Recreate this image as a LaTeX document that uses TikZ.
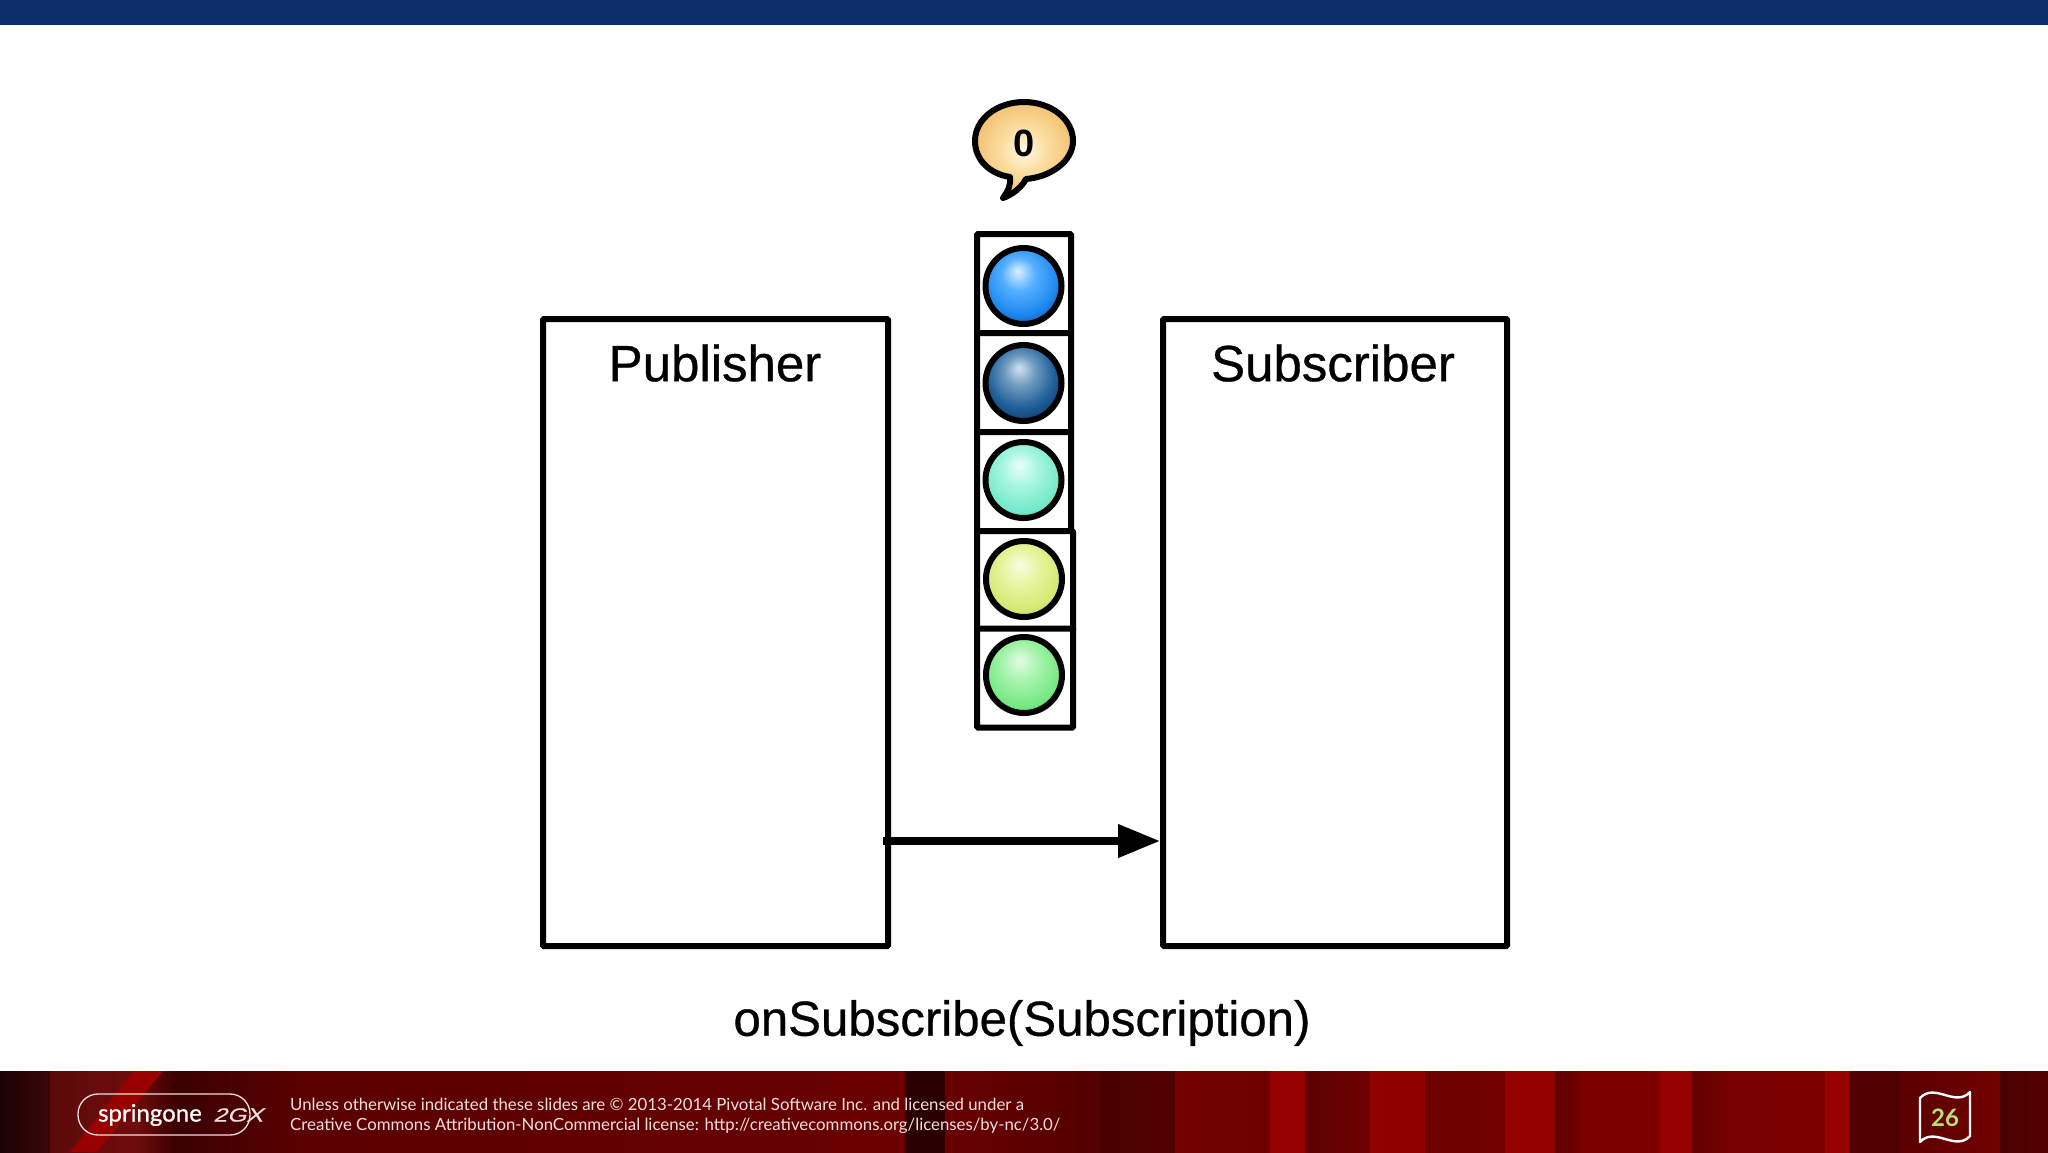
\documentclass[tikz,border=0pt]{standalone}
\usepackage{fontspec}
\setmainfont{Liberation Sans}
\newfontfamily\diagfont[FakeBold=0.6]{Liberation Sans}
\newfontfamily\footfont{Lato}
\newfontfamily\logofont[FakeBold=0.8]{Lato}
\newfontfamily\gxfont[FakeStretch=1.3,FakeSlant=0.3,FakeBold=0.8]{Liberation Sans}
\usetikzlibrary{arrows.meta,positioning}
\definecolor{bA}{HTML}{DCEEFF}\definecolor{bB}{HTML}{55B0FF}\definecolor{bC}{HTML}{1E88F0}\definecolor{bD}{HTML}{0A4A98}
\pgfdeclareradialshading{ballone}{\pgfpoint{-4bp}{10bp}}{color(0bp)=(bA); color(11bp)=(bB); color(24bp)=(bC); color(33bp)=(bD); color(50bp)=(bD)}
\definecolor{nA}{HTML}{D5E2EE}\definecolor{nB}{HTML}{6F9BC0}\definecolor{nC}{HTML}{1F5F98}\definecolor{nD}{HTML}{08305C}
\pgfdeclareradialshading{balltwo}{\pgfpoint{-3bp}{10bp}}{color(0bp)=(nA); color(10bp)=(nB); color(22bp)=(nC); color(34bp)=(nD); color(50bp)=(nD)}
\definecolor{tA}{HTML}{EAFFF8}\definecolor{tB}{HTML}{A6F6E0}\definecolor{tC}{HTML}{72E8C8}\definecolor{tD}{HTML}{48BFA0}
\pgfdeclareradialshading{ballthree}{\pgfpoint{-3bp}{10bp}}{color(0bp)=(tA); color(12bp)=(tB); color(26bp)=(tC); color(35bp)=(tD); color(50bp)=(tD)}
\definecolor{yA}{HTML}{F8FCE4}\definecolor{yB}{HTML}{E6F5A0}\definecolor{yC}{HTML}{D4E870}\definecolor{yD}{HTML}{8FA848}
\pgfdeclareradialshading{ballfour}{\pgfpoint{-3bp}{10bp}}{color(0bp)=(yA); color(12bp)=(yB); color(26bp)=(yC); color(35bp)=(yD); color(50bp)=(yD)}
\definecolor{gA}{HTML}{E4FBE6}\definecolor{gB}{HTML}{A6F4AC}\definecolor{gC}{HTML}{72E880}\definecolor{gD}{HTML}{3CA850}
\pgfdeclareradialshading{ballfive}{\pgfpoint{-3bp}{10bp}}{color(0bp)=(gA); color(12bp)=(gB); color(26bp)=(gC); color(35bp)=(gD); color(50bp)=(gD)}
\definecolor{oA}{HTML}{FFF6E2}\definecolor{oB}{HTML}{FCDDA0}\definecolor{oC}{HTML}{F2C070}
\pgfdeclareradialshading{bubbleshade}{\pgfpoint{0bp}{0bp}}{color(0bp)=(oA); color(12bp)=(oB); color(26bp)=(oC); color(50bp)=(oC)}
\definecolor{topbar}{HTML}{0D2E66}
\definecolor{foottext}{HTML}{F2DEDE}
\definecolor{numgreen}{HTML}{B8E070}
\tikzset{
  box/.style={draw=black,line width=6pt,rounded corners=1pt,fill=white,inner sep=0pt},
  mainbox/.style={box,minimum width=#1,minimum height=627pt},
  cell/.style={box,minimum width=#1,minimum height=99pt},
  ballnode/.style={circle,draw=black,line width=6pt,minimum size=76pt,inner sep=0pt,shading=#1},
  bigtext/.style={inner sep=0pt,font=\diagfont\fontsize{51}{60}\selectfont,text=black},
  foot/.style={inner sep=0pt,anchor=west,text=foottext,font=\footfont\fontsize{16.8}{20}\selectfont},
}
\newcommand{\stripe}[4]{\definecolor{sl}{HTML}{#3}\definecolor{sr}{HTML}{#4}\path[left color=sl,right color=sr] (#1,1071) rectangle (#2,1152);}
\begin{document}
\begin{tikzpicture}[x=1pt,y=-1pt]
\useasboundingbox (0,0) rectangle (2048,1152);
\fill[white] (0,0) rectangle (2048,1152);
\fill[topbar] (0,0) rectangle (2048,25);
% footer
\stripe{0}{50}{1C0202}{3A0606}
\stripe{50}{135}{5A0A0A}{700C0C}
\stripe{135}{175}{700C0C}{3E0000}
\stripe{175}{300}{3A0000}{5A0000}
\stripe{300}{800}{5A0000}{660000}
\stripe{800}{905}{660000}{6C0000}
\stripe{905}{945}{2A0000}{2A0000}
\stripe{945}{1100}{680000}{520000}
\stripe{1100}{1175}{4A0000}{520000}
\stripe{1175}{1270}{720000}{700000}
\stripe{1270}{1305}{950000}{950000}
\stripe{1305}{1370}{5E0000}{700000}
\stripe{1370}{1425}{920000}{900000}
\stripe{1425}{1505}{6E0000}{720000}
\stripe{1505}{1555}{950000}{930000}
\stripe{1555}{1580}{5E0000}{720000}
\stripe{1580}{1660}{7A0000}{7E0000}
\stripe{1660}{1692}{960000}{960000}
\stripe{1692}{1730}{640000}{760000}
\stripe{1730}{1825}{780000}{7C0000}
\stripe{1825}{1850}{960000}{960000}
\stripe{1850}{1900}{520000}{500000}
\stripe{1900}{2000}{5A0000}{720000}
\stripe{2000}{2048}{4A0000}{520000}
\definecolor{diag}{HTML}{980000}
\fill[diag] (133,1071) -- (163,1071) -- (97,1152) -- (70,1152) -- cycle;
% diagram
\node[mainbox=345pt] (pub) at (715.5,632.5) {};
\node[mainbox=344pt] (sub) at (1335,632.5) {};
\node[bigtext] (pubtext) at (715,363) {Publisher};
\node[bigtext] (subtext) at (1333,363) {Subscriber};
\node[cell=94pt] (c1) at (1024,283.5) {};
\node[cell=94pt] (c2) at (1024,382.5) {};
\node[cell=94pt] (c3) at (1024,481.5) {};
\node[cell=96pt] (c4) at (1025,580.5) {};
\node[cell=96pt] (c5) at (1025,678) {};
\node[ballnode=ballone] (b1) at (1023.5,286) {};
\node[ballnode=balltwo] (b2) at (1023.5,383) {};
\node[ballnode=ballthree] (b3) at (1023.5,480) {};
\node[ballnode=ballfour] (b4) at (1024,579) {};
\node[ballnode=ballfive] (b5) at (1024,675) {};
\path[draw=black,line width=6pt,line join=round,shading=bubbleshade]
  (1024,102) .. controls (1051,102) and (1073,119) .. (1073,141)
  .. controls (1073,161) and (1051,177) .. (1026,179)
  .. controls (1022,187) and (1012,195) .. (1003,198)
  .. controls (1008,191) and (1011,185) .. (1010,177)
  .. controls (990,174) and (975,160) .. (975,141)
  .. controls (975,119) and (997,102) .. (1024,102) -- cycle;
\node[inner sep=0pt,font=\bfseries\fontsize{38}{40}\selectfont] (zero) at (1024,143) {0};
\coordinate (arrowstart) at (883,841);
\draw[line width=7.5pt,-{Triangle[length=42pt,width=32pt]}] (arrowstart) -- (sub.west |- arrowstart);
\node[bigtext,font=\diagfont\fontsize{49.2}{58}\selectfont] (call) at (1022,1023) {onSubscribe(Subscription)};
% footer content
\node[draw=foottext,line width=1.3pt,rounded corners=20pt,minimum width=172pt,minimum height=41pt,inner sep=0pt] (logo) at (164,1114.5) {};
\node[inner sep=0pt,text=white,font=\logofont\fontsize{24}{28}\selectfont] (spring) at (150,1115) {springone};
\node[inner sep=0pt,text=foottext,font=\gxfont\fontsize{19}{20}\selectfont] (gx) at (238,1115) {2GX};
\node[foot] (l1) at (290,1104) {Unless otherwise indicated these slides are © 2013-2014 Pivotal Software Inc. and licensed under a};
\node[foot] (l2) at (290,1126) {Creative Commons Attribution-NonCommercial license: http://creativecommons.org/licenses/by-nc/3.0/};
\draw[white,line width=2.4pt,line join=round] (1920,1098) .. controls (1935,1082) and (1955,1108) .. (1970,1092) -- (1970,1136) .. controls (1955,1152) and (1935,1126) .. (1920,1142) -- cycle;
\node[inner sep=0pt,text=numgreen,font=\footfont\bfseries\fontsize{24}{26}\selectfont] (num) at (1945,1118) {26};
\end{tikzpicture}
\end{document}
